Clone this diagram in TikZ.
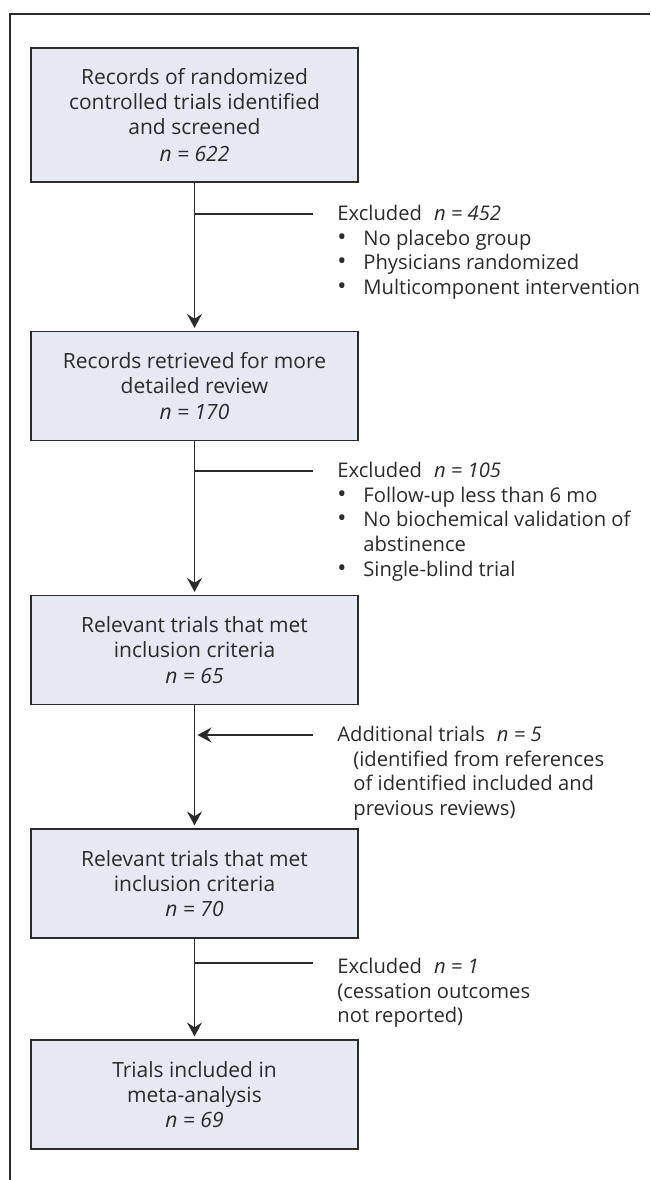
\documentclass[tikz,border=0pt]{standalone}
\usepackage{fontspec}
\usepackage{graphicx}
\setmainfont{Open Sans}
\usetikzlibrary{arrows.meta}
\definecolor{boxfill}{HTML}{E6E8F2}
\definecolor{ink}{HTML}{2B2B2B}
\tikzset{
  flowbox/.style={draw=ink, line width=0.6pt, fill=boxfill, minimum width=163.5pt,
    minimum height=54.5pt, align=center, inner sep=0pt, text=ink,
    font=\fontsize{10.5}{12.6}\selectfont},
  note/.style={anchor=north west, align=left, inner sep=0pt, text=ink,
    font=\fontsize{10.1}{12.3}\selectfont},
  flow/.style={draw=ink, line width=0.8pt},
  tip/.style={-{Stealth[length=7pt,width=7.5pt,inset=2.5pt]}, shorten >=1.5pt}
}
\newcommand{\bul}{\makebox[13pt][l]{\scalebox{1.2}{\textbullet}}}

\begin{document}
\begin{tikzpicture}[x=0.5pt,y=-0.5pt]
  \useasboundingbox (0,0) rectangle (650,1180);
  % frame
  \draw[ink, line width=1pt] (10,1180) -- (10,14) -- (650,14);

  % boxes
  \node[flowbox, minimum height=67pt] (rec) at (194.5,115) {Records of randomized\\controlled trials identified\\and screened\\[1pt]\textit{n = 622}};
  \node[flowbox] (ret) at (194.5,386) {Records retrieved for more\\detailed review\\\textit{n = 170}};
  \node[flowbox] (rel) at (194.5,650) {Relevant trials that met\\inclusion criteria\\\textit{n = 65}};
  \node[flowbox] (rel2) at (194.5,883.5) {Relevant trials that met\\inclusion criteria\\\textit{n = 70}};
  \node[flowbox] (inc) at (194.5,1094.5) {Trials included in\\meta-analysis\\\textit{n = 69}};

  % main arrows
  \draw[flow,tip] (rec) -- (ret);
  \draw[flow,tip] (ret) -- (rel);
  \draw[flow,tip] (rel) -- (rel2);
  \draw[flow,tip] (rel2) -- (inc);

  % side notes
  \coordinate (j1) at (194.5,214);
  \coordinate (e1) at (313,214);
  \draw[flow] (j1) -- (e1);
  \node[note] (ex1) at (337,205) {Excluded\hspace{6pt}\textit{n = 452}\\
    \bul No placebo group\\
    \bul Physicians randomized\\
    \bul Multicomponent intervention};

  \coordinate (j2) at (194.5,471);
  \coordinate (e2) at (313,471);
  \draw[flow] (j2) -- (e2);
  \node[note] (ex2) at (337,462) {Excluded\hspace{6pt}\textit{n = 105}\\
    \bul Follow-up less than 6 mo\\
    \bul No biochemical validation of\\
    \hspace*{13pt}abstinence\\
    \bul Single-blind trial};

  \coordinate (j3) at (194.5,735);
  \coordinate (e3) at (313,735);
  \draw[flow,tip] (e3) -- (j3);
  \node[note] (add) at (337,726) {Additional trials\hspace{6pt}\textit{n = 5}\\
    \hspace*{8pt}(identified from references\\
    \hspace*{8pt}of identified included and\\
    \hspace*{8pt}previous reviews)};

  \coordinate (j4) at (194.5,963);
  \coordinate (e4) at (313,963);
  \draw[flow] (j4) -- (e4);
  \node[note] (ex3) at (337,958) {Excluded\hspace{6pt}\textit{n = 1}\\
    (cessation outcomes\\
    not reported)};
\end{tikzpicture}
\end{document}
